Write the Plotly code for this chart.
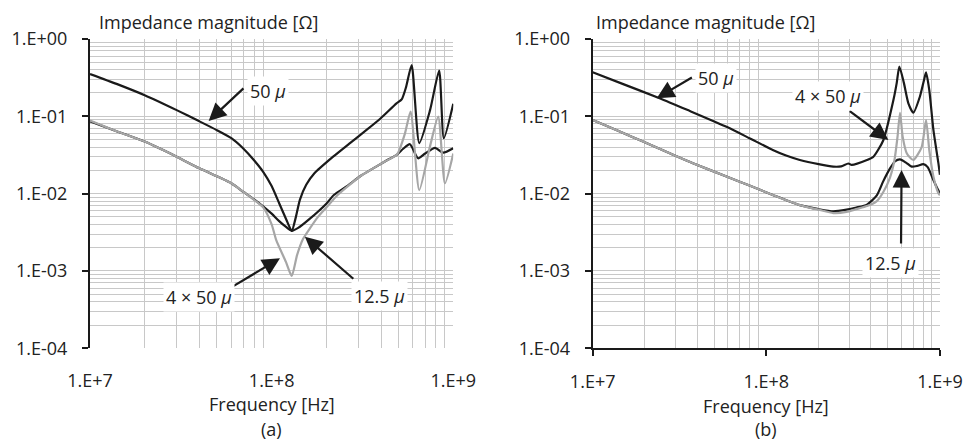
import numpy as np
import plotly.graph_objects as go

# ---------------- (a) ----------------
fa_50 = [1.0e7, 1.4e7, 2.0e7, 3.0e7, 4.0e7, 5.0e7, 6.0e7, 7.0e7, 8.0e7, 9.0e7,
         1.0e8, 1.1e8, 1.2e8, 1.29e8, 1.36e8, 1.43e8, 1.55e8, 1.72e8, 2.18e8, 2.7e8,
         3.33e8, 4.0e8, 4.87e8, 5.2e8, 5.5e8, 5.9e8, 6.5e8, 7.45e8, 8.36e8, 8.87e8, 1.0e9]
za_50 = [0.352, 0.262, 0.187, 0.120, 0.086, 0.066, 0.052, 0.038, 0.027, 0.019,
         0.0125, 0.0075, 0.0047, 0.0033, 0.0050, 0.0083, 0.013, 0.0183, 0.030, 0.045,
         0.0665, 0.095, 0.147, 0.165, 0.24, 0.46, 0.045, 0.12, 0.39, 0.052, 0.145]

fa_12 = [1.0e7, 1.4e7, 2.0e7, 3.0e7, 4.0e7, 6.0e7, 7.0e7, 8.0e7, 9.0e7, 1.0e8,
         1.1e8, 1.2e8, 1.29e8, 1.4e8, 1.6e8, 2.0e8, 2.2e8, 2.6e8, 3.1e8, 3.6e8,
         4.2e8, 4.9e8, 5.3e8, 5.77e8, 6.4e8, 7.0e8, 7.93e8, 8.8e8, 1.0e9]
za_12 = [0.086, 0.064, 0.047, 0.030, 0.0212, 0.0136, 0.0105, 0.0084, 0.0068, 0.0055,
         0.0044, 0.0037, 0.0033, 0.0036, 0.0046, 0.0074, 0.0096, 0.0125, 0.017, 0.021,
         0.026, 0.032, 0.038, 0.0435, 0.0286, 0.033, 0.039, 0.0338, 0.0385]

fa_200 = [1.0e7, 1.4e7, 2.0e7, 3.0e7, 4.0e7, 6.0e7, 7.0e7, 8.0e7, 9.0e7, 1.0e8,
          1.06e8, 1.2e8, 1.29e8, 1.38e8, 1.49e8, 1.63e8, 1.8e8, 2.0e8, 2.3e8, 2.6e8,
          3.1e8, 3.6e8, 4.2e8, 4.9e8, 5.42e8, 5.82e8, 6.5e8, 7.43e8, 8.26e8, 9.0e8, 1.0e9]
za_200 = [0.088, 0.064, 0.047, 0.030, 0.0212, 0.0136, 0.0105, 0.0083, 0.0066, 0.0040,
          0.0025, 0.0013, 0.00086, 0.0016, 0.0026, 0.0036, 0.0050, 0.0066, 0.0095, 0.0122,
          0.017, 0.021, 0.026, 0.032, 0.060, 0.115, 0.0111, 0.040, 0.099, 0.0136, 0.033]

# ---------------- (b) ----------------
fb_50 = [1.0e7, 1.5e7, 2.43e7, 3.5e7, 5.9e7, 8.0e7, 1.09e8, 1.3e8, 1.56e8, 2.0e8,
         2.43e8, 2.7e8, 2.97e8, 3.1e8, 3.8e8, 4.14e8, 4.72e8, 5.4e8, 5.64e8, 5.84e8,
         6.2e8, 6.58e8, 7.03e8, 7.67e8, 8.1e8, 8.32e8, 8.68e8, 9.17e8, 9.8e8, 1.0e9]
zb_50 = [0.37, 0.26, 0.171, 0.121, 0.073, 0.052, 0.0366, 0.031, 0.0272, 0.024,
         0.0223, 0.0225, 0.0245, 0.0235, 0.0272, 0.030, 0.049, 0.163, 0.27, 0.44,
         0.27, 0.147, 0.111, 0.18, 0.295, 0.37, 0.219, 0.0665, 0.0247, 0.0175]

fb_12 = [1.0e7, 1.4e7, 1.95e7, 2.8e7, 3.78e7, 6.0e7, 8.0e7, 1.09e8, 1.56e8, 2.0e8,
         2.43e8, 2.9e8, 3.3e8, 3.8e8, 4.33e8, 4.72e8, 5.15e8, 5.5e8, 5.89e8, 6.4e8,
         6.88e8, 7.4e8, 8.03e8, 8.5e8, 9.17e8, 9.6e8, 1.0e9]
zb_12 = [0.0895, 0.065, 0.047, 0.033, 0.0247, 0.0164, 0.0127, 0.0096, 0.0071, 0.0063,
         0.0059, 0.0062, 0.0066, 0.0072, 0.0095, 0.0145, 0.021, 0.026, 0.0277, 0.025,
         0.0223, 0.0228, 0.0241, 0.022, 0.015, 0.012, 0.0101]

fb_200 = [1.0e7, 1.4e7, 1.95e7, 2.8e7, 3.78e7, 6.0e7, 8.0e7, 1.09e8, 1.56e8, 2.0e8,
          2.43e8, 2.9e8, 3.3e8, 3.8e8, 4.33e8, 4.72e8, 5.15e8, 5.47e8, 5.7e8, 5.89e8,
          6.1e8, 6.45e8, 7.03e8, 7.85e8, 8.32e8, 8.68e8, 9.17e8, 9.8e8, 1.0e9]
zb_200 = [0.0895, 0.065, 0.047, 0.033, 0.0247, 0.0164, 0.0127, 0.0096, 0.0071, 0.0062,
          0.0056, 0.0058, 0.0063, 0.0069, 0.0080, 0.0105, 0.016, 0.027, 0.0545, 0.111,
          0.0545, 0.033, 0.0272, 0.040, 0.0895, 0.0366, 0.0166, 0.0101, 0.0095]

x_ticks = [1e7, 1e8, 1e9]
x_ticktext = ["1.E+7", "1.E+8", "1.E+9"]
y_ticks = [1e-4, 1e-3, 1e-2, 1e-1, 1e0]
y_ticktext = ["1.E-04", "1.E-03", "1.E-02", "1.E-01", "1.E+00"]

FONT = "Open Sans"
FSIZE = 18
BLACK = "#1a1a1a"
GRAY = "#a6a6a6"
GRID = "#c8c8c8"

x_minor = [k * 10.0 ** d for d in (7, 8) for k in range(2, 10)] + [1e9]
y_minor = [k * 10.0 ** d for d in (-4, -3, -2, -1) for k in range(2, 10)]

fig = go.Figure()

panels = [
    ("x", "y", [(fa_12, za_12, BLACK), (fa_200, za_200, GRAY), (fa_50, za_50, BLACK)]),
    ("x2", "y2", [(fb_12, zb_12, BLACK), (fb_200, zb_200, GRAY), (fb_50, zb_50, BLACK)]),
]
for xa, ya, series in panels:
    for f, z, col in series:
        fig.add_trace(go.Scatter(x=f, y=z, mode="lines", xaxis=xa, yaxis=ya,
                                 line=dict(color=col, width=2.2, shape="spline",
                                           smoothing=0.6),
                                 showlegend=False, hoverinfo="skip"))

ydom = [0.212, 0.912]
xdoms = [[0.0928, 0.4673], [0.611, 0.969]]

def xaxis_cfg(dom, show_line):
    return dict(type="log", range=[7, 9], domain=dom, automargin=False,
                tickvals=x_ticks, ticktext=x_ticktext,
                ticks="outside", ticklen=6, tickwidth=1.5,
                tickcolor=BLACK if show_line else "rgba(0,0,0,0)",
                showline=show_line, linecolor=BLACK, linewidth=2,
                showgrid=False, zeroline=False,
                minor=dict(tickvals=x_minor, showgrid=True, gridcolor=GRID,
                           gridwidth=1.3, ticks=""),
                tickfont=dict(family=FONT, size=FSIZE, color="#222"),
                ticklabelstandoff=10)

def yaxis_cfg(anchor):
    return dict(type="log", range=[-4, 0], domain=ydom, anchor=anchor, automargin=False,
                tickvals=y_ticks, ticktext=y_ticktext,
                ticks="outside", ticklen=6, tickwidth=1.5, tickcolor=BLACK,
                showline=True, linecolor=BLACK, linewidth=2,
                showgrid=True, gridcolor=GRID, gridwidth=1.3, zeroline=False,
                minor=dict(tickvals=y_minor, showgrid=True, gridcolor=GRID,
                           gridwidth=1.3, ticks=""),
                tickfont=dict(family=FONT, size=FSIZE, color="#222"),
                ticklabelstandoff=11)

fig.update_layout(
    width=970, height=442, margin=dict(l=0, r=0, t=0, b=0, autoexpand=False),
    paper_bgcolor="white", plot_bgcolor="white",
    xaxis=xaxis_cfg(xdoms[0], False), yaxis=yaxis_cfg("x"),
    xaxis2=xaxis_cfg(xdoms[1], True), yaxis2=yaxis_cfg("x2"),
)

# darker major gridline at 1e8 in each panel
for xa, ya in (("x", "y"), ("x2", "y2")):
    fig.add_shape(type="line", xref=xa, yref=f"{ya} domain",
                  x0=np.log10(1e8), x1=np.log10(1e8), y0=0, y1=1,
                  line=dict(color="#8a8a8a", width=1), layer="below")

txt = dict(family=FONT, size=FSIZE, color="#222")

# axis titles and panel captions
for i, (xa, cap) in enumerate((("x", "(a)"), ("x2", "(b)"))):
    fig.add_annotation(text="Impedance magnitude [Ω]", xref=f"{xa} domain", yref="paper",
                       x=0.02 if i == 0 else 0.004, y=0.950, xanchor="left", yanchor="middle",
                       showarrow=False, font=txt)
    fig.add_annotation(text="Frequency [Hz]", xref=f"{xa} domain", yref="paper",
                       x=0.5, y=0.085 if i == 0 else 0.082, xanchor="center", yanchor="middle",
                       showarrow=False, font=txt)
    fig.add_annotation(text=cap, xref=f"{xa} domain", yref="paper",
                       x=0.5, y=0.03, xanchor="center", yanchor="middle",
                       showarrow=False, font=txt)

# curve labels: (axis pair, label text, label position, arrow tail, arrow tip) in (Hz, Ohm)
labels = [
    ("x", "y", "50 <i>μ</i>", (10**7.980, 10**-0.673), (10**7.853, 10**-0.621), (10**7.653, 10**-1.061)),
    ("x", "y", "4 × 50 <i>μ</i>", (10**7.600, 10**-3.338), (10**7.781, 10**-3.208), (10**8.046, 10**-2.837)),
    ("x", "y", "12.5 <i>μ</i>", (10**8.596, 10**-3.325), (10**8.458, 10**-3.118), (10**8.183, 10**-2.558)),
    ("x2", "y2", "50 <i>μ</i>", (10**7.710, 10**-0.505), (10**7.580, 10**-0.488), (10**7.369, 10**-0.767)),
    ("x2", "y2", "4 × 50 <i>μ</i>", (10**8.355, 10**-0.737), (10**8.472, 10**-0.918), (10**8.703, 10**-1.307)),
    ("x2", "y2", "12.5 <i>μ</i>", (10**8.713, 10**-2.898), (10**8.776, 10**-2.665), (10**8.779, 10**-1.695)),
]
for xa, ya, text, (lf, lz), (tf, tz), (hf, hz) in labels:
    fig.add_annotation(xref=xa, yref=ya, axref=xa, ayref=ya,
                       x=np.log10(hf), y=np.log10(hz), ax=np.log10(tf), ay=np.log10(tz),
                       text="", showarrow=True, arrowhead=2, arrowsize=1.6,
                       arrowwidth=2.2, arrowcolor=BLACK, standoff=0, startstandoff=0)
    fig.add_annotation(xref=xa, yref=ya, x=np.log10(lf), y=np.log10(lz),
                       text=text, showarrow=False, bgcolor="white",
                       borderpad=2, font=txt)

fig.write_html("out.html")
